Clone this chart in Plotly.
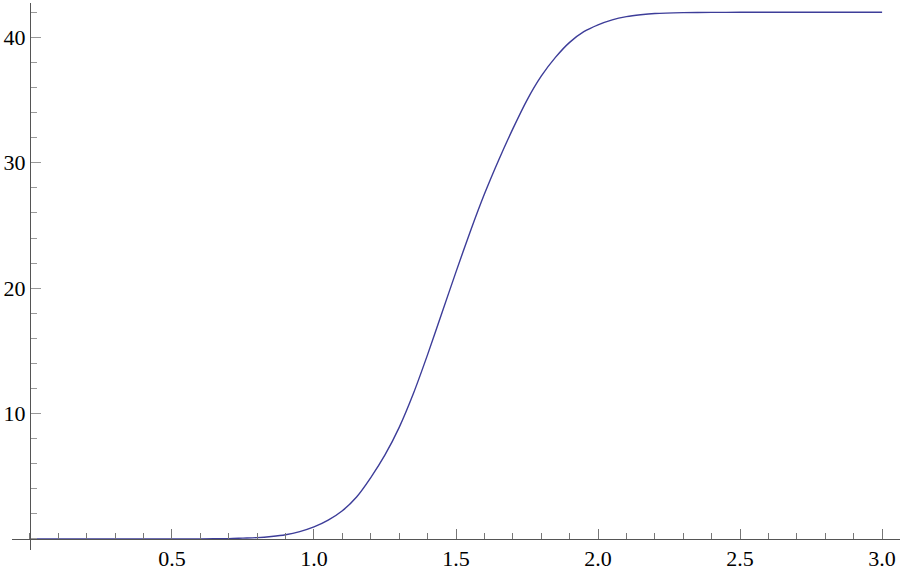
import plotly.graph_objects as go

x_vals = [0.0, 0.1, 0.2, 0.3, 0.4, 0.5, 0.6, 0.7, 0.75, 0.8, 0.85, 0.9, 0.95, 1.0, 1.05, 1.1,
          1.15, 1.2, 1.25, 1.3, 1.35, 1.4, 1.45, 1.5, 1.55, 1.6, 1.65, 1.7, 1.75, 1.8, 1.85,
          1.9, 1.95, 2.0, 2.05, 2.1, 2.15, 2.2, 2.3, 2.4, 2.5, 2.6, 2.7, 2.8, 2.9, 3.0]
y_vals = [0.0, 0.0, 0.0, 0.0, 0.0, 0.0, 0.01, 0.03, 0.07, 0.11, 0.2, 0.34, 0.59, 0.96, 1.5, 2.25,
          3.35, 4.9, 6.7, 8.9, 11.6, 14.7, 18.0, 21.3, 24.5, 27.5, 30.2, 32.7, 35.0, 36.9, 38.4,
          39.6, 40.45, 41.0, 41.4, 41.65, 41.8, 41.9, 41.97, 41.99, 42.0, 42.0, 42.0, 42.0, 42.0, 42.0]

x_ticks = [0.5, 1.0, 1.5, 2.0, 2.5, 3.0]
x_tick_text = ["0.5", "1.0", "1.5", "2.0", "2.5", "3.0"]
y_ticks = [10, 20, 30, 40]
y_tick_text = ["10", "20", "30", "40"]

x_range = [-0.063, 3.063]
y_range = [-0.88, 42.74]

fig = go.Figure()
fig.add_trace(go.Scatter(x=x_vals, y=y_vals, mode="lines",
                         line=dict(color="#3d3d99", width=1.4, shape="spline", smoothing=0.8),
                         hoverinfo="skip", showlegend=False))

font = dict(family="Liberation Serif, Times New Roman, serif", size=22, color="black")

fig.update_layout(
    width=900, height=572,
    margin=dict(l=12, r=0, t=3, b=22),
    paper_bgcolor="white", plot_bgcolor="white",
    showlegend=False,
    xaxis=dict(
        range=x_range, showgrid=False, zeroline=False,
        showline=True, linecolor="#555555", linewidth=1,
        anchor="free", position=(0 - y_range[0]) / (y_range[1] - y_range[0]),
        tickmode="array", tickvals=x_ticks, ticktext=x_tick_text,
        ticks="inside", ticklen=10, tickwidth=1, tickcolor="#777777",
        minor=dict(tickmode="linear", tick0=0, dtick=0.1, ticks="inside", ticklen=6,
                   tickwidth=1, tickcolor="#777777", showgrid=False),
        tickfont=font,
    ),
    yaxis=dict(
        range=y_range, showgrid=False, zeroline=False,
        showline=True, linecolor="#555555", linewidth=1,
        anchor="free", position=(0 - x_range[0]) / (x_range[1] - x_range[0]),
        tickmode="array", tickvals=y_ticks, ticktext=y_tick_text,
        ticks="inside", ticklen=10, tickwidth=1, tickcolor="#999999",
        minor=dict(tickmode="linear", tick0=0, dtick=2, ticks="inside", ticklen=6,
                   tickwidth=1, tickcolor="#999999", showgrid=False),
        tickfont=font,
    ),
)

fig.write_html("out.html", config={"displayModeBar": False},
               post_script="document.body.style.margin='0px';document.body.style.padding='0px';")
